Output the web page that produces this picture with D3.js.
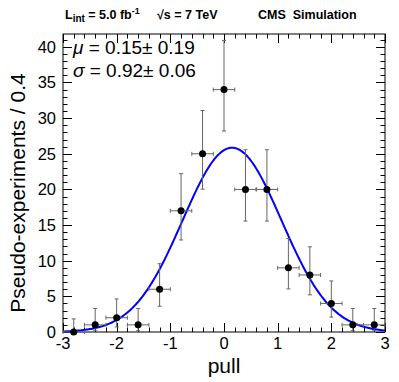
<!DOCTYPE html>
<html>
<head>
<meta charset="utf-8">
<script src="https://cdnjs.cloudflare.com/ajax/libs/d3/7.8.5/d3.min.js"></script>
<style>
  body { margin: 0; background: #fff; }
  svg { display: block; font-family: "Liberation Sans", Arial, Helvetica, sans-serif; }
  text { white-space: pre; }
</style>
</head>
<body>
<svg id="chart" width="399" height="382"></svg>
<script>
// bin centres (pull), counts and Poisson 68% error bounds
var binCenters = [-2.8, -2.4, -2.0, -1.6, -1.2, -0.8, -0.4, 0.0, 0.4, 0.8, 1.2, 1.6, 2.0, 2.4, 2.8];
var counts     = [0, 1, 2, 1, 6, 17, 25, 34, 20, 20, 9, 8, 4, 1, 1];
var errLow     = [0, 0.83, 1.29, 0.83, 2.38, 4.09, 4.97, 5.81, 4.44, 4.44, 2.96, 2.79, 1.91, 0.83, 0.83];
var errHigh    = [1.84, 2.30, 2.64, 2.30, 3.58, 5.21, 6.07, 6.90, 5.56, 5.56, 4.12, 3.95, 3.16, 2.30, 2.30];
var binWidth = 0.4;

// gaussian fit parameters
var fitMu = 0.15, fitSigma = 0.92, fitPeak = 25.85;

var xTicks = [-3, -2, -1, 0, 1, 2, 3];
var yTicks = [0, 5, 10, 15, 20, 25, 30, 35, 40];

var margin = {left: 63, right: 14, top: 34, bottom: 50};
var width = 399 - margin.left - margin.right,
    height = 382 - margin.top - margin.bottom;

var svg = d3.select('#chart');
var g = svg.append('g').attr('transform', 'translate(' + margin.left + ',' + margin.top + ')');

var x = d3.scaleLinear().domain([-3, 3]).range([0, width]);
var y = d3.scaleLinear().domain([0, 41.8]).range([height, 0]);

// frame
g.append('rect')
    .attr('x', 0).attr('y', 0)
    .attr('width', width).attr('height', height)
    .attr('fill', 'none').attr('stroke', '#000').attr('stroke-width', 1);

// ticks, ROOT style (inside the frame on all four sides)
var xMinor = d3.range(-3, 3.001, 0.2);
var yMinor = d3.range(0, 41.8, 1);
function isMajor(v, step) { return Math.abs(v / step - Math.round(v / step)) < 1e-6; }

var ticks = g.append('g').attr('stroke', '#000').attr('stroke-width', 1);
xMinor.forEach(function (v) {
    var len = isMajor(v, 1) ? 9 : 4.5;
    var px = Math.round(x(v)) + 0.5;
    ticks.append('line').attr('x1', px).attr('x2', px).attr('y1', height).attr('y2', height - len);
    ticks.append('line').attr('x1', px).attr('x2', px).attr('y1', 0).attr('y2', len);
});
yMinor.forEach(function (v) {
    var len = isMajor(v, 5) ? 9 : 4.5;
    var py = Math.round(y(v)) + 0.5;
    ticks.append('line').attr('x1', 0).attr('x2', len).attr('y1', py).attr('y2', py);
    ticks.append('line').attr('x1', width).attr('x2', width - len).attr('y1', py).attr('y2', py);
});

// tick labels
g.selectAll('.xlab').data(xTicks).enter().append('text')
    .attr('x', function (d) { return x(d); })
    .attr('y', height + 17)
    .attr('text-anchor', 'middle')
    .attr('font-size', 16.5)
    .text(function (d) { return d; });

g.selectAll('.ylab').data(yTicks).enter().append('text')
    .attr('x', -7)
    .attr('y', function (d) { return y(d) + 6; })
    .attr('text-anchor', 'end')
    .attr('font-size', 16.5)
    .text(function (d) { return d; });

// axis titles
svg.append('text')
    .attr('x', margin.left + width / 2)
    .attr('y', 373)
    .attr('text-anchor', 'middle')
    .attr('font-size', 21)
    .text('pull');

svg.append('text')
    .attr('transform', 'translate(25,193) rotate(-90)')
    .attr('text-anchor', 'middle')
    .attr('font-size', 21)
    .text('Pseudo-experiments / 0.4');

// fit curve
var curveX = d3.range(-3, 3.0001, 0.02);
var line = d3.line()
    .x(function (d) { return x(d); })
    .y(function (d) { return y(fitPeak * Math.exp(-0.5 * Math.pow((d - fitMu) / fitSigma, 2))); });
g.append('path')
    .datum(curveX)
    .attr('d', line)
    .attr('fill', 'none')
    .attr('stroke', '#0000ff')
    .attr('stroke-width', 2);

// data points with error bars
var pts = binCenters.map(function (c, i) {
    return {x: c, v: counts[i], lo: counts[i] - errLow[i], hi: counts[i] + errHigh[i]};
});
var eb = g.append('g').attr('stroke', '#666').attr('stroke-width', 1);
pts.forEach(function (d) {
    var cx = x(d.x), cy = y(d.v);
    var x0 = x(d.x - binWidth / 2), x1 = x(d.x + binWidth / 2);
    eb.append('line').attr('x1', x0).attr('x2', x1).attr('y1', cy).attr('y2', cy);
    eb.append('line').attr('x1', x0).attr('x2', x0).attr('y1', cy - 2).attr('y2', cy + 2);
    eb.append('line').attr('x1', x1).attr('x2', x1).attr('y1', cy - 2).attr('y2', cy + 2);
    eb.append('line').attr('x1', cx).attr('x2', cx).attr('y1', y(d.lo)).attr('y2', y(d.hi));
    eb.append('line').attr('x1', cx - 2).attr('x2', cx + 2).attr('y1', y(d.hi)).attr('y2', y(d.hi));
    if (d.lo > 0) {
        eb.append('line').attr('x1', cx - 2).attr('x2', cx + 2).attr('y1', y(d.lo)).attr('y2', y(d.lo));
    }
});
g.selectAll('.pt').data(pts).enter().append('circle')
    .attr('cx', function (d) { return x(d.x); })
    .attr('cy', function (d) { return y(d.v); })
    .attr('r', 3.5)
    .attr('fill', '#000');

// fit result text
var fitText = [['\u03bc', ' = 0.15\u00b1 0.19', 54], ['\u03c3', ' = 0.92\u00b1 0.06', 77]];
fitText.forEach(function (t) {
    var tx = svg.append('text').attr('x', 73).attr('y', t[2]).attr('font-size', 19);
    tx.append('tspan').attr('font-style', 'italic').text(t[0]);
    tx.append('tspan').text(t[1]);
});

// header
var hdr = svg.append('text').attr('x', 65).attr('y', 19).attr('font-size', 12.5).attr('font-weight', 'bold');
hdr.append('tspan').text('L');
hdr.append('tspan').attr('font-size', 10).attr('dy', 3).text('int');
hdr.append('tspan').attr('dy', -3).text(' = 5.0 fb');
hdr.append('tspan').attr('font-size', 9).attr('dy', -5).text('-1');

svg.append('text')
    .attr('x', 157).attr('y', 19)
    .attr('font-size', 12.5).attr('font-weight', 'bold')
    .text('\u221as = 7 TeV');

svg.append('text')
    .attr('x', 258).attr('y', 19)
    .attr('font-size', 12.5).attr('font-weight', 'bold')
    .text('CMS  Simulation');
</script>
</body>
</html>
